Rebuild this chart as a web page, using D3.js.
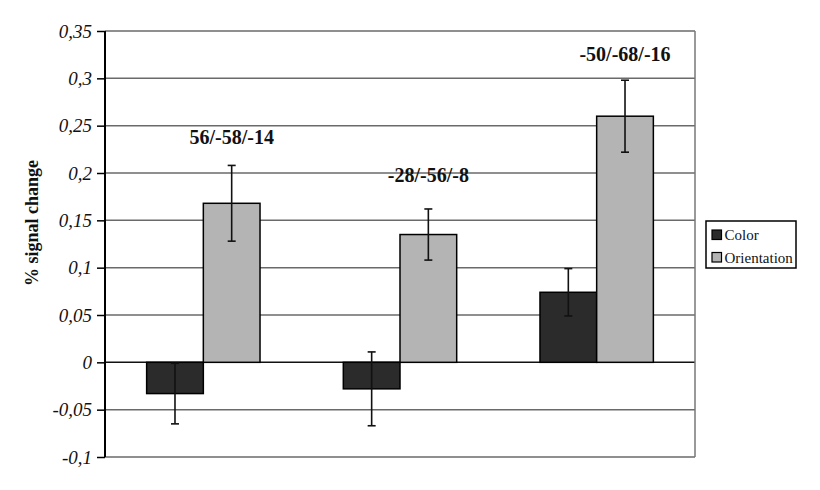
<!DOCTYPE html>
<html>
<head>
<meta charset="utf-8">
<script src="https://cdn.jsdelivr.net/npm/d3@7"></script>
<style>
  body { margin: 0; background: #fff; }
  svg, svg text { font-family: "Liberation Serif", "Tinos", "Times New Roman", Times, "DejaVu Serif", "Noto Serif", serif !important; }
</style>
</head>
<body>
<svg id="chart" width="820" height="490"></svg>
<script>
// groups (only identified by their peak coordinates)
const groups = ["g1", "g2", "g3"];
const coords = ["56/-58/-14", "-28/-56/-8", "-50/-68/-16"];
const coordY = [0.231, 0.191, 0.318];   // where the coordinate labels sit, in % signal change

const seriesNames = ["Color", "Orientation"];
const colorVals = [-0.033, -0.028, 0.074];
const colorErr = [0.032, 0.039, 0.025];
const orientVals = [0.168, 0.135, 0.260];
const orientErr = [0.040, 0.027, 0.038];

const yTicks = [-0.1, -0.05, 0, 0.05, 0.1, 0.15, 0.2, 0.25, 0.3, 0.35];
const fills = ["#2b2b2b", "#b4b4b4"];

const svg = d3.select("#chart");
const plotLeft = 105, plotRight = 695, plotTop = 31, plotBottom = 457;

let x = d3.scaleBand()
    .domain(groups)
    .range([plotLeft, plotRight])
    .paddingInner(0.4235)
    .paddingOuter(0.21175);

let xs = d3.scaleBand()
    .domain(seriesNames)
    .range([0, x.bandwidth()]);

let y = d3.scaleLinear()
    .domain([-0.1, 0.35])
    .range([plotBottom, plotTop]);

let fmt = d => String(d).replace(".", ",");

// gridlines
svg.append("g")
    .selectAll("line")
    .data(yTicks)
    .enter().append("line")
    .attr("x1", plotLeft)
    .attr("x2", plotRight)
    .attr("y1", d => y(d))
    .attr("y2", d => y(d))
    .attr("stroke", d => d === 0 ? "#111" : "#6a6a6a")
    .attr("stroke-width", 1.5);

// right border of plot area
svg.append("line")
    .attr("x1", plotRight).attr("x2", plotRight)
    .attr("y1", y(0.35)).attr("y2", y(-0.1))
    .attr("stroke", "#777")
    .attr("stroke-width", 1.5);

// bars
let rows = groups.map((g, i) => [
    {g: g, s: "Color", v: colorVals[i], e: colorErr[i], c: fills[0]},
    {g: g, s: "Orientation", v: orientVals[i], e: orientErr[i], c: fills[1]}
]).flat();

let bars = svg.append("g");

bars.selectAll("rect")
    .data(rows)
    .enter().append("rect")
    .attr("x", d => x(d.g) + xs(d.s))
    .attr("width", xs.bandwidth())
    .attr("y", d => y(Math.max(0, d.v)))
    .attr("height", d => Math.abs(y(d.v) - y(0)))
    .attr("fill", d => d.c)
    .attr("stroke", "#000")
    .attr("stroke-width", 1.5);

// error bars
let err = svg.append("g")
    .attr("stroke", "#111")
    .attr("stroke-width", 1.6);

rows.forEach(function (d){
    let cx = x(d.g) + xs(d.s) + xs.bandwidth() / 2;
    err.append("line")
        .attr("x1", cx).attr("x2", cx)
        .attr("y1", y(d.v + d.e)).attr("y2", y(d.v - d.e));
    [d.v + d.e, d.v - d.e].forEach(function (t){
        err.append("line")
            .attr("x1", cx - 4).attr("x2", cx + 4)
            .attr("y1", y(t)).attr("y2", y(t));
    });
});

// y axis
let axis = svg.append("g")
    .attr("transform", `translate(${plotLeft},0)`)
    .call(d3.axisLeft(y).tickValues(yTicks).tickSize(8).tickPadding(5).tickFormat(fmt));

axis.select(".domain").attr("stroke", "#000").attr("stroke-width", 2)
    .attr("d", `M0,${y(0.35)}V${y(-0.1)}`);
axis.selectAll(".tick line").attr("stroke", "#000").attr("stroke-width", 1.5);
axis.selectAll(".tick text")
    .style("font-style", "italic")
    .style("font-size", "19px")
    .attr("fill", "#111");

// y axis title
svg.append("text")
    .attr("transform", "translate(38,223) rotate(-90)")
    .attr("text-anchor", "middle")
    .style("font-weight", "bold")
    .style("font-size", "18px")
    .attr("fill", "#111")
    .text("% signal change");

// coordinate labels above orientation bars
svg.append("g")
    .selectAll("text")
    .data(groups)
    .enter().append("text")
    .attr("x", d => x(d) + xs("Orientation") + xs.bandwidth() / 2)
    .attr("y", (d, i) => y(coordY[i]))
    .attr("text-anchor", "middle")
    .style("font-weight", "bold")
    .style("font-size", "20px")
    .attr("fill", "#111")
    .text((d, i) => coords[i]);

// legend
let legend = svg.append("g").attr("transform", "translate(706,221)");

legend.append("rect")
    .attr("width", 90)
    .attr("height", 47)
    .attr("fill", "#fff")
    .attr("stroke", "#000")
    .attr("stroke-width", 1.5);

seriesNames.forEach(function (s, i){
    legend.append("rect")
        .attr("x", 6)
        .attr("y", 9 + i * 22.5)
        .attr("width", 9.5)
        .attr("height", 9.5)
        .attr("fill", fills[i])
        .attr("stroke", "#000")
        .attr("stroke-width", 1.2);
    legend.append("text")
        .attr("x", 18.5)
        .attr("y", 18.5 + i * 23)
        .style("font-size", "15px")
        .attr("fill", "#111")
        .text(s);
});
</script>
</body>
</html>
